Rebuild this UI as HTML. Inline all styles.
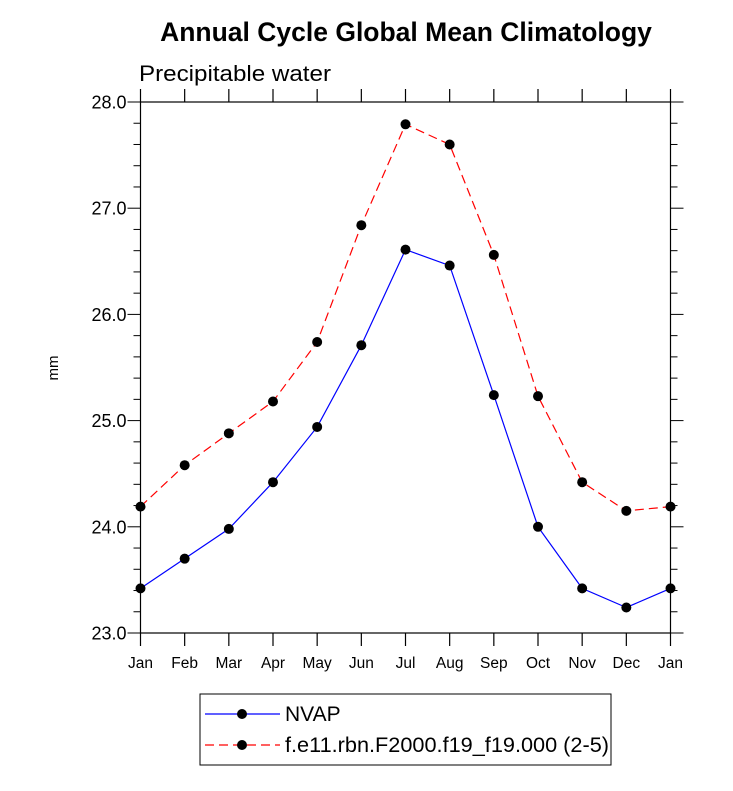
<!DOCTYPE html>
<html><head><meta charset="utf-8"><style>
body{margin:0;background:#fff;}
svg text{font-family:"Liberation Sans",Arial,sans-serif;}
</style></head><body>
<svg id="chart" width="733" height="786" xmlns="http://www.w3.org/2000/svg">
<text x="406" y="41" text-anchor="middle" font-size="26.5" font-weight="bold">Annual Cycle Global Mean Climatology</text>
<text x="139" y="81" font-size="22" textLength="192" lengthAdjust="spacingAndGlyphs">Precipitable water</text>
<text transform="translate(58,368) rotate(-90)" text-anchor="middle" font-size="15">mm</text>
<g id="axes"></g>
<g id="series"></g>
<g id="legend">
<rect x="200" y="694" width="411" height="71" fill="#fff" stroke="#000" stroke-width="1"/>
<g>
<line x1="205" y1="714" x2="280" y2="714" stroke="#0000ff" stroke-width="1.2"/>
<circle cx="242" cy="714" r="5" fill="#000"/>
<text x="285" y="721" font-size="21">NVAP</text></g>
<g>
<line x1="205" y1="745" x2="280" y2="745" stroke="#ff0000" stroke-width="1.2" stroke-dasharray="9,5"/>
<circle cx="242" cy="745" r="5" fill="#000"/>
<text x="285" y="752" font-size="21" textLength="324" lengthAdjust="spacingAndGlyphs">f.e11.rbn.F2000.f19_f19.000 (2-5)</text></g>
</g>
</svg>
<script>
const months = ["Jan","Feb","Mar","Apr","May","Jun","Jul","Aug","Sep","Oct","Nov","Dec","Jan"];
const nvapValues = [23.42,23.70,23.98,24.42,24.94,25.71,26.61,26.46,25.24,24.00,23.42,23.24,23.42];
const modelValues = [24.19,24.58,24.88,25.18,25.74,26.84,27.79,27.60,26.56,25.23,24.42,24.15,24.19];
const yTickLabels = ["23.0","24.0","25.0","26.0","27.0","28.0"];
const yMin = 23, yMax = 28;
const L=140.5,R=670.5,T=102,B=633;
const NS="http://www.w3.org/2000/svg";
const xs = i => L + (R-L)*i/(months.length-1);
const ys = v => B - (B-T)*(v-yMin)/(yMax-yMin);
function mk(tag, attrs, parent){const e=document.createElementNS(NS,tag);for(const k in attrs)e.setAttribute(k,attrs[k]);parent.appendChild(e);return e;}
const ax=document.getElementById('axes');
const frame=mk('rect',{x:L,y:T,width:R-L,height:B-T,fill:'none',stroke:'#000','stroke-width':1.2},ax);


months.forEach((m,i)=>{
  const x=xs(i);
  mk('line',{x1:x,y1:B,x2:x,y2:B+13,stroke:'#000','stroke-width':1.2},ax);
  mk('line',{x1:x,y1:T,x2:x,y2:T-13,stroke:'#000','stroke-width':1.2},ax);
  const t=mk('text',{x:x,y:B+35,'text-anchor':'middle','font-size':15.5},ax);
  t.textContent=m;
  
  
});
for(let v=yMin; v<=yMax+1e-6; v+=0.2){
  const y=ys(v); const major=Math.abs(v-Math.round(v))<1e-6; const len=major?13:7;
  mk('line',{x1:L,y1:y,x2:L-len,y2:y,stroke:'#000','stroke-width':1},ax);
  mk('line',{x1:R,y1:y,x2:R+len,y2:y,stroke:'#000','stroke-width':1},ax);
}
yTickLabels.forEach((lab,i)=>{
  const t=mk('text',{x:L-14,y:ys(parseFloat(lab))+6.5,'text-anchor':'end','font-size':18},ax);
  t.textContent=lab;
  
  
});
const sg=document.getElementById('series');
function drawSeries(vals,color,dash,name){
  const g=mk('g',{},sg);
  
  
  const pts=vals.map((v,i)=>xs(i)+','+ys(v)).join(' ');
  const a={points:pts,fill:'none',stroke:color,'stroke-width':1.2};
  if(dash)a['stroke-dasharray']=dash;
  mk('polyline',a,g);
  vals.forEach((v,i)=>{
    const c=mk('circle',{cx:xs(i),cy:ys(v),r:5,fill:'#000'},g);
    
    
  });
}
drawSeries(modelValues,'#ff0000','9,5','model-series');
drawSeries(nvapValues,'#0000ff',null,'nvap-series');
</script>
</body></html>
